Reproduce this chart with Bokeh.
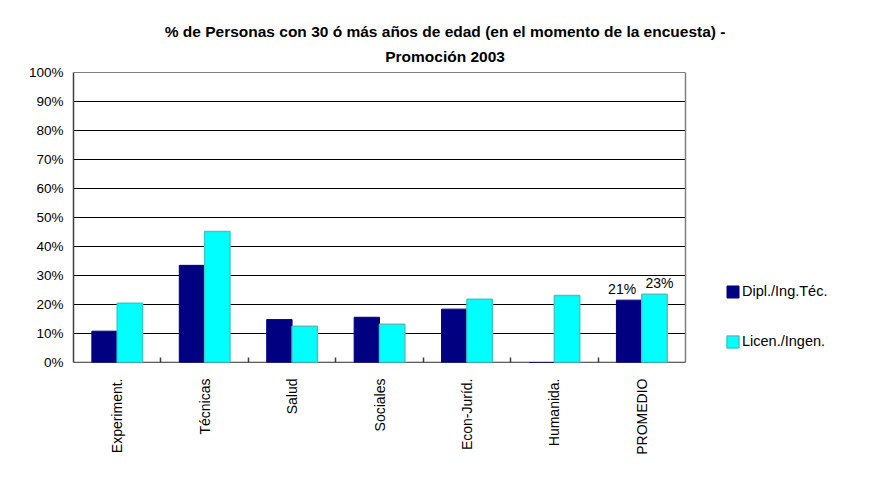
import math
import numpy as np
from bokeh.plotting import figure
from bokeh.models import (ColumnDataSource, Legend, LegendItem, Range1d,
                          LabelSet, NumeralTickFormatter, FixedTicker, LinearAxis)
from bokeh.core.properties import value
from bokeh.embed import file_html
from bokeh.resources import INLINE

categories = ["Experiment.", "Técnicas", "Salud", "Sociales", "Econ-Juríd.", "Humanida.", "PROMEDIO"]
dipl = [0.108, 0.335, 0.148, 0.156, 0.184, 0.0, 0.215]
licen = [0.204, 0.452, 0.125, 0.132, 0.218, 0.231, 0.235]
series_names = ["Dipl./Ing.Téc.", "Licen./Ingen."]
promedio_labels = ["21%", "23%"]
title_lines = ["% de Personas con 30 ó más años de edad (en el momento de la encuesta) -",
               "Promoción 2003"]
y_ticks = [0, 0.1, 0.2, 0.3, 0.4, 0.5, 0.6, 0.7, 0.8, 0.9, 1.0]

FONT = "Liberation Sans"
n = len(categories)
centers = [i + 0.5 for i in range(n)]
bounds = [float(i) for i in range(1, n)]
BW = 0.29

W, H = 879, 483
LEFT, TOP, BOTTOM = 73, 72, 121
PLOT_W = 612                      # pixel width of the bar area
FRAME_W = W - LEFT                # frame extends to the right edge (room for legend)
x_end = n * FRAME_W / PLOT_W

src = ColumnDataSource(dict(cat=categories, xd=np.array(centers) - BW / 2,
                            xl=np.array(centers) + BW / 2, dipl=dipl, licen=licen))

p = figure(width=W, height=H, x_range=Range1d(0, x_end), y_range=Range1d(0, 1),
           output_backend="svg", toolbar_location=None,
           min_border_left=LEFT, min_border_right=0, min_border_top=TOP, min_border_bottom=BOTTOM)

# grid lines and right border of the bar area
p.segment(x0=[0] * len(y_ticks), x1=[n] * len(y_ticks), y0=y_ticks, y1=y_ticks,
          line_color="#000000", line_width=1)
p.segment(x0=[n], x1=[n], y0=[0], y1=[1], line_color="#808080", line_width=1.5)
p.segment(x0=[0], x1=[n], y0=[0], y1=[0], line_color="#404040", line_width=1.5)

r1 = p.vbar(x="xd", top="dipl", width=BW, source=src,
            fill_color="#000080", line_color="#000080", line_width=1)
r2 = p.vbar(x="xl", top="licen", width=BW, source=src,
            fill_color="#00FFFF", line_color="#40C8C8", line_width=1.5)

# data labels for PROMEDIO
lab_src = ColumnDataSource(dict(xd=[centers[-1] - BW / 2], xl=[centers[-1] + BW / 2],
                                dipl=[dipl[-1]], licen=[licen[-1]],
                                dtxt=[promedio_labels[0]], ltxt=[promedio_labels[1]]))
p.add_layout(LabelSet(x="xd", y="dipl", text="dtxt", source=lab_src, x_offset=-7,
                      text_align="center", text_baseline="bottom", y_offset=3,
                      text_font=value(FONT), text_font_size=value("14px"), text_color="#000000"))
p.add_layout(LabelSet(x="xl", y="licen", text="ltxt", source=lab_src, x_offset=5,
                      text_align="center", text_baseline="bottom", y_offset=3,
                      text_font=value(FONT), text_font_size=value("14px"), text_color="#000000"))

# y axis
p.yaxis.ticker = FixedTicker(ticks=y_ticks)
p.yaxis.formatter = NumeralTickFormatter(format="0%")
p.yaxis.major_label_text_font = FONT
p.yaxis.major_label_text_font_size = "13.5px"
p.yaxis.major_label_text_color = "#000000"
p.yaxis.major_tick_out = 0
p.yaxis.major_tick_in = 0
p.yaxis.minor_tick_line_color = None
p.yaxis.axis_line_color = "#404040"
p.yaxis.axis_line_width = 1.5
p.yaxis.major_label_standoff = 10

# x axis: labels at centres, small ticks at boundaries
p.xaxis.ticker = FixedTicker(ticks=centers, minor_ticks=bounds)
p.xaxis.major_label_overrides = {c: lab for c, lab in zip(centers, categories)}
p.xaxis.major_label_orientation = math.pi / 2
p.xaxis.major_label_text_font = FONT
p.xaxis.major_label_text_font_size = "14px"
p.xaxis.major_label_text_color = "#000000"
p.xaxis.major_tick_line_color = None
p.xaxis.minor_tick_in = 5
p.xaxis.minor_tick_out = 0
p.xaxis.minor_tick_line_color = "#404040"
p.xaxis.minor_tick_line_width = 1.5
p.xaxis.axis_line_color = None
p.xaxis.major_label_standoff = 10

p.xgrid.grid_line_color = None
p.ygrid.grid_line_color = None
p.outline_line_color = None

# title: two text-only axes above the frame (inner line first)
TITLE_X = 4.25
for line, so in ((title_lines[1], 8), (title_lines[0], 5)):
    ax = LinearAxis(ticker=FixedTicker(ticks=[TITLE_X]),
                    major_label_overrides={TITLE_X: line}, axis_line_color=None,
                    major_tick_line_color=None, minor_tick_line_color=None,
                    major_tick_in=0, major_tick_out=0, major_label_standoff=so,
                    major_label_text_font=FONT, major_label_text_font_size="15.5px",
                    major_label_text_font_style="bold", major_label_text_color="#000000")
    p.add_layout(ax, "above")

legend = Legend(items=[LegendItem(label=series_names[0], renderers=[r1]),
                       LegendItem(label=series_names[1], renderers=[r2])],
                location=(652, 11), spacing=30, glyph_width=15, glyph_height=15,
                label_height=20, label_standoff=2, padding=0, margin=0,
                border_line_color=None, background_fill_alpha=0,
                label_text_font=FONT, label_text_font_size="14.5px",
                label_text_color="#000000")
p.add_layout(legend)

open("out.html", "w").write(file_html(p, INLINE))
